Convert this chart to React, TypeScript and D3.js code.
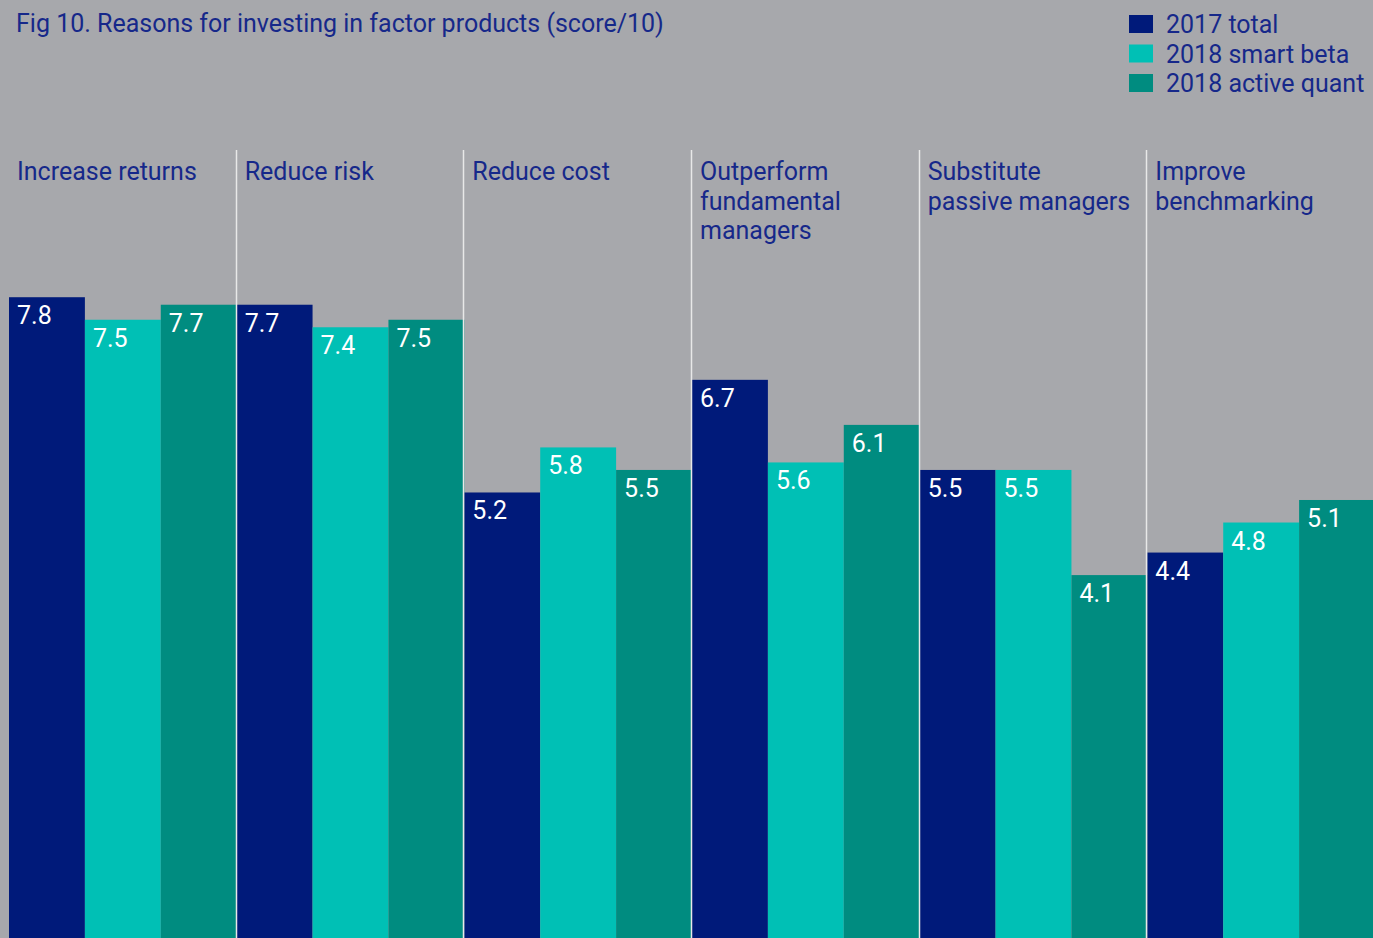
import React, { useEffect, useRef } from 'react';
import * as d3 from 'd3';

const categories = [
  ['Increase returns'],
  ['Reduce risk'],
  ['Reduce cost'],
  ['Outperform', 'fundamental', 'managers'],
  ['Substitute', 'passive managers'],
  ['Improve', 'benchmarking'],
];
const seriesNames = ['2017 total', '2018 smart beta', '2018 active quant'];
const total2017 = [7.8, 7.7, 5.2, 6.7, 5.5, 4.4];
const smartBeta2018 = [7.5, 7.4, 5.8, 5.6, 5.5, 4.8];
const activeQuant2018 = [7.7, 7.5, 5.5, 6.1, 4.1, 5.1];
const colors = ['#001a7a', '#00c0b5', '#008c80'];

const W = 1373;
const H = 938;
const FONT = 'Roboto, "Noto Sans", sans-serif';

export default function App() {
  const svgRef = useRef<SVGSVGElement>(null);

  useEffect(() => {
    if (!svgRef.current) return;
    const svg = d3.select(svgRef.current);
    svg.selectAll('*').remove();

    const series = [total2017, smartBeta2018, activeQuant2018];
    const idx = categories.map((_, i) => String(i));

    const x0 = d3.scaleBand().domain(idx).range([9, 1375]).padding(0);
    const x1 = d3.scaleBand().domain(['0', '1', '2']).range([0, x0.bandwidth()]).padding(0);
    // baseline sits below the visible area (chart is cropped)
    const y = d3.scaleLinear().domain([0, 10]).range([883, 883 - 751]);

    svg.append('rect').attr('width', W).attr('height', H).attr('fill', '#a7a8ac');

    // title
    svg.append('text')
      .attr('x', 16).attr('y', 32)
      .attr('fill', '#16288a')
      .style('font-family', FONT).style('font-size', '25px')
      .text('Fig 10. Reasons for investing in factor products (score/10)');

    // legend
    const leg = svg.append('g');
    seriesNames.forEach((name, i) => {
      const ly = 24 + i * 29.5;
      leg.append('rect').attr('x', 1129).attr('y', ly - 9).attr('width', 24).attr('height', 18).attr('fill', colors[i]);
      leg.append('text').attr('x', 1166).attr('y', ly + 9)
        .attr('fill', '#16288a')
        .style('font-family', FONT).style('font-size', '25px')
        .text(name);
    });

    // category labels
    categories.forEach((lines, i) => {
      const lx = (x0(String(i)) || 0) + 8;
      const t = svg.append('text')
        .attr('x', lx)
        .attr('y', 180)
        .attr('fill', '#16288a')
        .style('font-family', FONT).style('font-size', '25px');
      lines.forEach((ln, j) => {
        t.append('tspan').attr('x', lx).attr('dy', j === 0 ? 0 : 29.5).text(ln);
      });
    });

    // bars + value labels
    const g = svg.append('g');
    idx.forEach((c, ci) => {
      series.forEach((vals, si) => {
        const bx = (x0(c) || 0) + (x1(String(si)) || 0);
        const v = vals[ci];
        g.append('rect')
          .attr('x', bx).attr('y', y(v))
          .attr('width', x1.bandwidth()).attr('height', H - y(v))
          .attr('fill', colors[si]);
        g.append('text')
          .attr('x', bx + 8).attr('y', y(v) + 27)
          .attr('fill', '#ffffff')
          .style('font-family', FONT).style('font-size', '25px')
          .text(v.toFixed(1));
      });
    });

    // separators between groups
    idx.slice(1).forEach((c) => {
      const sx = Math.round(x0(c) || 0) - 0.5;
      svg.append('line')
        .attr('x1', sx).attr('x2', sx).attr('y1', 150).attr('y2', H)
        .attr('stroke', '#e8e8e8').attr('stroke-width', 1.5);
    });
  }, []);

  return (
    <svg ref={svgRef} width={W} height={H} style={{ position: 'absolute', left: 0, top: 0, display: 'block' }} />
  );
}
